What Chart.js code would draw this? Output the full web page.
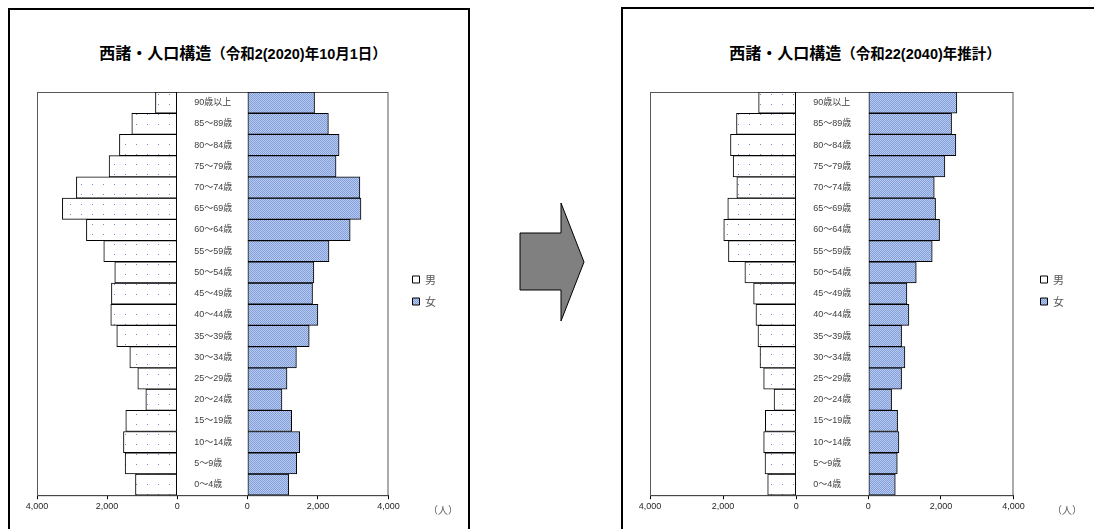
<!DOCTYPE html>
<html lang="ja">
<head>
<meta charset="UTF-8">
<title>西諸・人口構造</title>
<script src="https://cdn.jsdelivr.net/npm/chart.js@4.4.1/dist/chart.umd.min.js"></script>
<style>
  body { margin: 0; width: 1094px; height: 529px; overflow: hidden; background: #fff; position: relative;
         font-family: "Liberation Sans", "Noto Sans CJK JP", sans-serif; }
  .panel { position: absolute; border: 2px solid #000; box-sizing: border-box; }
  #p1 { left: 8px; top: 8px; width: 462px; height: 560px; }
  #p2 { left: 621px; top: 7px; width: 500px; height: 560px; }
  .title { position: absolute; top: 40px; font-weight: bold; white-space: nowrap; transform: translateX(-50%); color: #000; }
  .title .big { font-size: 16px; }
  .title .small { font-size: 14.5px; }
  canvas { position: absolute; }
  .unit { position: absolute; font-size: 10px; color: #595959; font-family: "Noto Sans CJK JP", sans-serif; }
</style>
</head>
<body>
  <div class="panel" id="p1"></div>
  <div class="panel" id="p2"></div>

  <div class="title" style="left:243px"><span class="big">西諸・人口構造</span><span class="small">（令和2(2020)年10月1日）</span></div>
  <div class="title" style="left:865px"><span class="big">西諸・人口構造</span><span class="small">（令和22(2040)年推計）</span></div>

  <!-- 矢印 -->
  <svg style="position:absolute;left:0;top:0" width="1094" height="529">
    <polygon points="520,233 561,233 561,203 584,262 561,321 561,290 520,290" fill="#808080" stroke="#000" stroke-width="1"/>
  </svg>

  <canvas id="c2020" width="458" height="449" style="left:10px;top:80px"></canvas>
  <canvas id="c2040" width="471" height="449" style="left:623px;top:80px"></canvas>

  <div class="unit" style="left:428px;top:502px">（人）</div>
  <div class="unit" style="left:1052px;top:502px">（人）</div>

<script>
// 年齢階級（下から上へ）
const ages = ['0～4歳', '5～9歳', '10～14歳', '15～19歳', '20～24歳', '25～29歳', '30～34歳', '35～39歳',
  '40～44歳', '45～49歳', '50～54歳', '55～59歳', '60～64歳', '65～69歳', '70～74歳', '75～79歳',
  '80～84歳', '85～89歳', '90歳以上'];

// 令和2(2020)年10月1日
const male2020 = [1190, 1486, 1533, 1467, 895, 1124, 1352, 1724, 1895, 1876, 1781, 2095, 2590, 3276, 2876, 1943, 1648, 1295, 620];
const female2020 = [1171, 1400, 1486, 1257, 982, 1125, 1391, 1754, 2000, 1848, 1886, 2314, 2914, 3220, 3190, 2514, 2600, 2297, 1905];

// 令和22(2040)年推計
const male2040 = [780, 853, 890, 844, 606, 890, 991, 1046, 1101, 1165, 1404, 1853, 1982, 1872, 1624, 1725, 1798, 1633, 1028];
const female2040 = [743, 798, 844, 807, 642, 917, 1009, 917, 1119, 1064, 1321, 1761, 1963, 1853, 1817, 2110, 2413, 2294, 2440];

const seriesNames = ['男', '女'];
const axisMax = 4000;
const axisStep = 2000;

// 模様（男：白地に点、女：青の細かい網目）
function makeMalePattern(ctx) {
  const c = document.createElement('canvas');
  c.width = 11; c.height = 10;
  const g = c.getContext('2d');
  g.fillStyle = '#fff';
  g.fillRect(0, 0, 11, 10);
  g.fillStyle = '#6A8CD6';
  g.fillRect(5, 4, 1, 1);
  return ctx.createPattern(c, 'repeat');
}
function makeFemalePattern(ctx) {
  const c = document.createElement('canvas');
  c.width = 2; c.height = 2;
  const g = c.getContext('2d');
  g.fillStyle = '#BACBEF';
  g.fillRect(0, 0, 2, 2);
  g.fillStyle = '#809EDA';
  g.fillRect(0, 0, 1, 1);
  g.fillRect(1, 1, 1, 1);
  return ctx.createPattern(c, 'repeat');
}

// 枠線と中央の年齢ラベル
const pyramidDecor = {
  id: 'pyramidDecor',
  beforeDatasetsDraw(chart) {
    const { ctx, chartArea: a } = chart;
    ctx.save();
    ctx.strokeStyle = '#595959';
    ctx.lineWidth = 1;
    ctx.strokeRect(a.left + 0.5, a.top + 0.5, a.right - a.left - 1, a.bottom - a.top);
    ctx.restore();
  },
  afterDatasetsDraw(chart) {
    const { ctx } = chart;
    const y = chart.scales.y, gap = chart.scales.xg;
    ctx.save();
    ctx.font = '9px "Liberation Sans", "Noto Sans CJK JP", sans-serif';
    ctx.fillStyle = '#404040';
    ctx.textBaseline = 'middle';
    chart.data.labels.forEach((lab, i) => ctx.fillText(lab, gap.left + 17, y.getPixelForValue(i)));
    ctx.restore();
  }
};

function makePyramid(id, male, female, w, pad) {
  const ctx = document.getElementById(id).getContext('2d');
  const tickFont = { family: '"Liberation Sans", sans-serif', size: 9 };
  const valueAxis = (reverse, weight) => ({
    type: 'linear', position: 'bottom', stack: 'x', stackWeight: weight,
    reverse: reverse, min: 0, max: axisMax,
    grid: { drawOnChartArea: false, drawTicks: true, tickLength: 4, tickColor: '#000' },
    border: { color: '#000', width: 1 },
    ticks: { stepSize: axisStep, autoSkip: false, color: '#262626', font: tickFont, padding: 2, maxRotation: 0 }
  });
  return new Chart(ctx, {
    type: 'bar',
    data: {
      labels: ages,
      datasets: [
        { label: seriesNames[0], data: male, xAxisID: 'xm', yAxisID: 'y',
          backgroundColor: makeMalePattern(ctx), borderColor: '#000', borderWidth: 1, borderSkipped: false,
          grouped: false, barPercentage: 1, categoryPercentage: 1 },
        { label: seriesNames[1], data: female, xAxisID: 'xf', yAxisID: 'y',
          backgroundColor: makeFemalePattern(ctx), borderColor: '#000', borderWidth: 1, borderSkipped: false,
          grouped: false, barPercentage: 1, categoryPercentage: 1 }
      ]
    },
    options: {
      indexAxis: 'y',
      responsive: false,
      animation: false,
      locale: 'en-US',
      layout: { padding: pad },
      scales: {
        xm: valueAxis(true, w[0]),
        xg: { type: 'linear', position: 'bottom', stack: 'x', stackWeight: w[1], min: 0, max: 1,
              grid: { display: false }, ticks: { display: false },
              border: { color: '#000', width: 1 } },
        xf: valueAxis(false, w[2]),
        y: { type: 'category', reverse: true, display: false },
        sp: { type: 'linear', position: 'right', min: 0, max: 1,
              grid: { display: false }, ticks: { display: false }, border: { display: false },
              afterFit: (s) => { s.width = pad.spacer; } }
      },
      plugins: {
        legend: {
          position: 'right',
          align: 'start',
          title: { display: true, text: '', font: { size: 10, lineHeight: 1 }, padding: { top: 161, bottom: 0 } },
          labels: { boxWidth: 7, boxHeight: 7, padding: 11, color: '#595959',
                    font: { family: '"Noto Sans CJK JP", sans-serif', size: 11 } }
        },
        tooltip: { enabled: false }
      }
    },
    plugins: [pyramidDecor]
  });
}

makePyramid('c2020', male2020, female2020, [140, 70, 141], { left: 27, top: 12, right: 22, bottom: 15, spacer: 13 });
makePyramid('c2040', male2040, female2040, [146, 72, 145], { left: 27, top: 12, right: 20, bottom: 15, spacer: 16 });
</script>
</body>
</html>
